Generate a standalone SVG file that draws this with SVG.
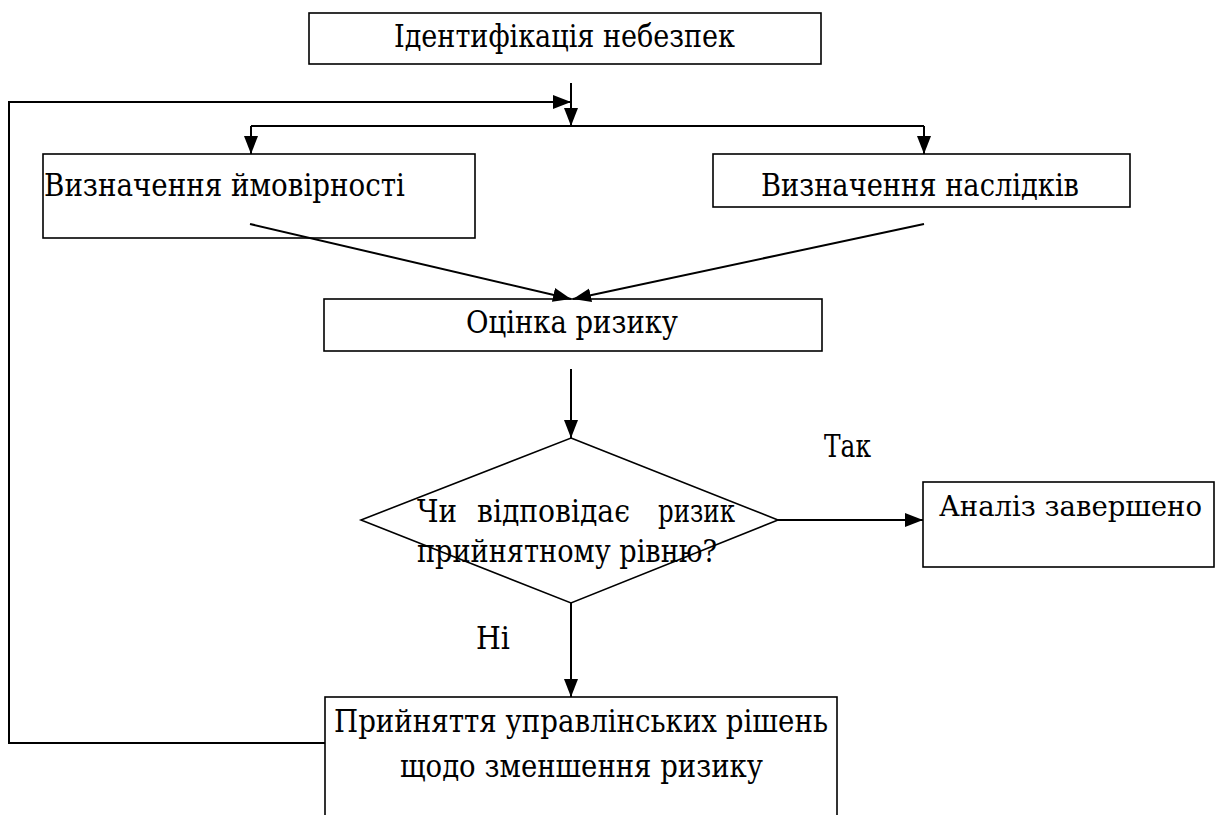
<svg xmlns="http://www.w3.org/2000/svg" width="1215" height="815" viewBox="0 0 1215 815">
<defs>
<style>
.box{fill:#fff;stroke:#000;stroke-width:1.6}
.ln{fill:none;stroke:#000;stroke-width:2}
text{font-family:'DejaVu Serif','Liberation Serif',serif;font-size:31px;fill:#000}
</style>
<marker id="ah" markerUnits="userSpaceOnUse" markerWidth="18" markerHeight="16" viewBox="0 0 18 16" refX="18" refY="8" orient="auto">
<path d="M0,1 L18,8 L0,15 Z" fill="#000"/>
</marker>
</defs>
<g id="n-ident">
<rect class="box" x="309" y="13" width="512" height="51"/>
<text x="394" y="47" textLength="341" lengthAdjust="spacingAndGlyphs">Ідентифікація небезпек</text>
</g>
<g id="n-prob">
<rect class="box" x="43" y="154" width="432" height="84"/>
<text x="44" y="196" textLength="361" lengthAdjust="spacingAndGlyphs">Визначення ймовірності</text>
</g>
<g id="n-cons">
<rect class="box" x="713" y="154" width="417" height="53"/>
<text x="761" y="196" textLength="318" lengthAdjust="spacingAndGlyphs">Визначення наслідків</text>
</g>
<g id="n-eval">
<rect class="box" x="324" y="299" width="498" height="52"/>
<text x="466" y="333" textLength="212" lengthAdjust="spacingAndGlyphs">Оцінка ризику</text>
</g>
<g id="n-decision">
<polygon class="box" points="571,438 778,520 571,603 361,520"/>
<text x="417" y="522" textLength="40" lengthAdjust="spacingAndGlyphs">Чи</text>
<text x="477" y="522" textLength="153" lengthAdjust="spacingAndGlyphs">відповідає</text>
<text x="658" y="522" textLength="77" lengthAdjust="spacingAndGlyphs">ризик</text>
<text x="417" y="562" textLength="300" lengthAdjust="spacingAndGlyphs">прийнятному рівню?</text>
</g>
<g id="n-done">
<rect class="box" x="923" y="482" width="291" height="85"/>
<text x="939" y="516" style="font-size:28px" textLength="263" lengthAdjust="spacingAndGlyphs">Аналіз завершено</text>
</g>
<g id="n-action">
<rect class="box" x="325" y="697" width="512" height="130"/>
<text x="334" y="732" textLength="494" lengthAdjust="spacingAndGlyphs">Прийняття управлінських рішень</text>
<text x="400" y="777" textLength="363" lengthAdjust="spacingAndGlyphs">щодо зменшення ризику</text>
</g>
<g id="labels">
<text x="824" y="457" textLength="47" lengthAdjust="spacingAndGlyphs">Так</text>
<text x="476" y="649" textLength="34" lengthAdjust="spacingAndGlyphs">Ні</text>
</g>
<g id="connectors">
<line class="ln" x1="571" y1="83" x2="571" y2="126" marker-end="url(#ah)"/>
<polyline class="ln" points="325,743 9,743 9,102 571,102" marker-end="url(#ah)"/>
<line class="ln" x1="251" y1="126" x2="924" y2="126"/>
<line class="ln" x1="251" y1="126" x2="251" y2="154" marker-end="url(#ah)"/>
<line class="ln" x1="924" y1="126" x2="924" y2="154" marker-end="url(#ah)"/>
<line class="ln" x1="250" y1="224" x2="571" y2="299" marker-end="url(#ah)"/>
<line class="ln" x1="924" y1="224" x2="573" y2="299" marker-end="url(#ah)"/>
<line class="ln" x1="571" y1="369" x2="571" y2="438" marker-end="url(#ah)"/>
<line class="ln" x1="778" y1="520" x2="923" y2="520" marker-end="url(#ah)"/>
<line class="ln" x1="571" y1="603" x2="571" y2="697" marker-end="url(#ah)"/>
</g>
</svg>
